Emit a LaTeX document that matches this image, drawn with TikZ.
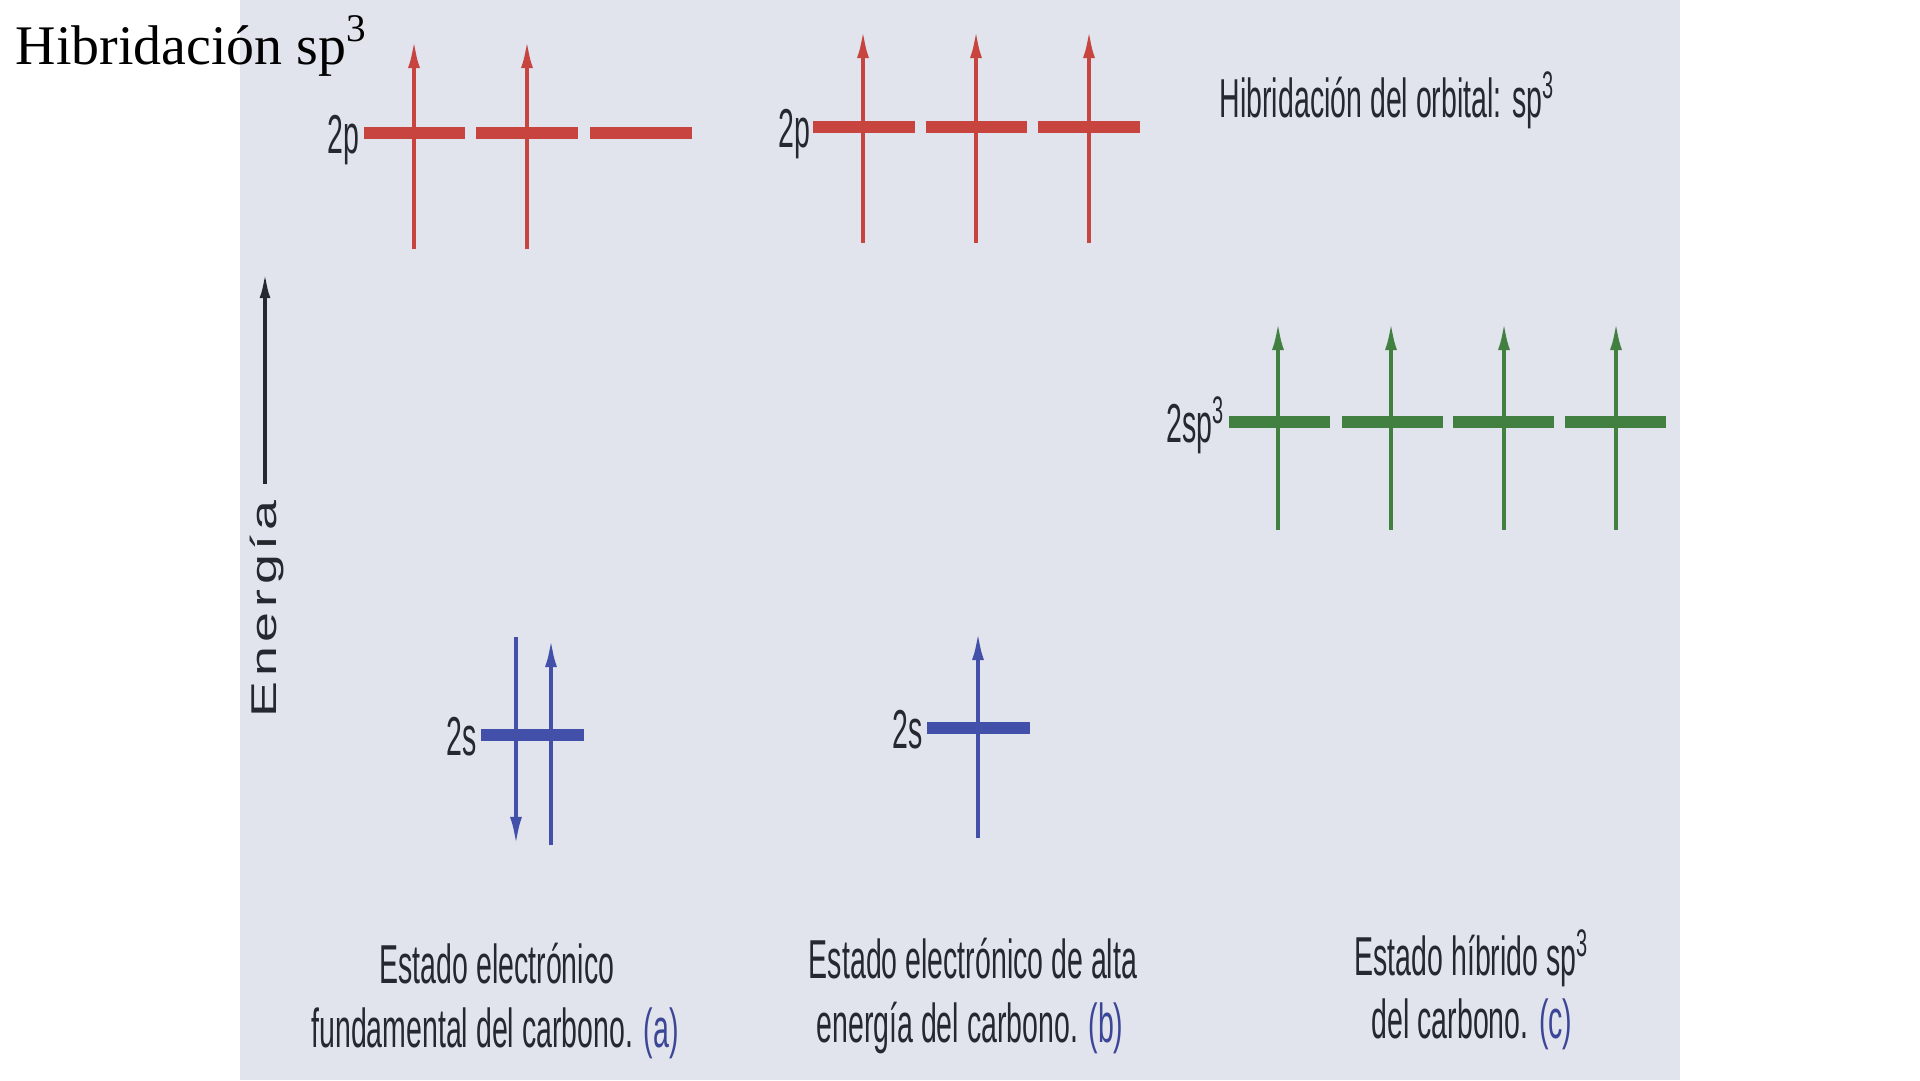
\documentclass[tikz,border=0pt]{standalone}
\usepackage{fontspec}
\setmainfont{Liberation Serif}
\newfontfamily\condfont[FakeStretch=0.52]{Liberation Sans}
\newfontfamily\widefont[FakeStretch=1.5,LetterSpace=13]{Liberation Sans}
\usetikzlibrary{arrows.meta}
\definecolor{paper}{RGB}{225,227,237}
\definecolor{ored}{RGB}{200,68,62}
\definecolor{ogreen}{RGB}{66,128,66}
\definecolor{oblue}{RGB}{66,80,170}
\definecolor{ink}{RGB}{38,40,48}
\definecolor{lblue}{RGB}{60,70,150}
\begin{document}
\begin{tikzpicture}[x=0.1mm,y=-0.1mm,
	orb/.style={line width=3.6pt},
	spin/.style={line width=1.1pt,-{Latex[length=8pt,width=3.4pt]}},
	lbl/.style={font=\condfont\fontsize{15.6}{18}\selectfont,text=ink,inner sep=0pt},
	leyenda/.style={lbl,anchor=base}]
	\useasboundingbox (0,0) rectangle (1920,1080);
	\fill[paper] (240,0) rectangle (1680,1080);
	\node[anchor=base west,inner sep=0pt,font=\fontsize{15.9}{19}\selectfont] (titulo) at (15,64) {Hibridación sp\textsuperscript{3}};
	% eje de energia
	\coordinate (e0) at (265,484) ; \coordinate (e1) at (265,270) ;
	\draw[ink,line width=1.2pt,-{Latex[length=8pt,width=3pt]}] (e0) -- (e1) ;
	\node[rotate=90,font=\widefont\fontsize{10.2}{12}\selectfont,text=ink,inner sep=0pt] (energia) at (267,609) {Energía};
	% (a) estado fundamental
	\draw[orb,ored] (364,133) -- (465,133) (476,133) -- (578,133) (590,133) -- (692,133) ;
	\foreach \x in {414,527} \draw[spin,ored] (\x,249) -- (\x,40) ;
	\node[lbl,anchor=base east] (a2p) at (360,153) {2p};
	\draw[orb,oblue] (481,735) -- (584,735) ;
	\draw[spin,oblue] (516,637) -- (516,845) ;
	\draw[spin,oblue] (551,845) -- (551,639) ;
	\node[lbl,anchor=base east] (a2s) at (477,755) {2s};
	% (b) estado de alta energia
	\draw[orb,ored] (813,127) -- (915,127) (926,127) -- (1027,127) (1038,127) -- (1140,127) ;
	\foreach \x in {863,976,1089} \draw[spin,ored] (\x,243) -- (\x,30) ;
	\node[lbl,anchor=base east] (b2p) at (811,147) {2p};
	\draw[orb,oblue] (927,728) -- (1030,728) ;
	\draw[spin,oblue] (978,838) -- (978,632) ;
	\node[lbl,anchor=base east] (b2s) at (923,748) {2s};
	% (c) estado hibrido
	\node[lbl,anchor=base west] (hib) at (1219,117) {Hibridación del orbital: sp\textsuperscript{3}};
	\draw[orb,ogreen] (1229,422) -- (1330,422) (1342,422) -- (1443,422) (1453,422) -- (1554,422) (1565,422) -- (1666,422) ;
	\foreach \x in {1278,1391,1504,1616} \draw[spin,ogreen] (\x,530) -- (\x,322) ;
	\node[lbl,anchor=base east] (c2sp) at (1226,442) {2sp\textsuperscript{3}};
	% leyendas
	\node[leyenda] (capa1) at (497,983) {Estado electrónico};
	\node[leyenda] (capa2) at (495,1047) {fundamental del carbono. {\color{lblue}(a)}};
	\node[leyenda] (capb1) at (973,978) {Estado electrónico de alta};
	\node[leyenda] (capb2) at (970,1042) {energía del carbono. {\color{lblue}(b)}};
	\node[leyenda] (capc1) at (1472,975) {Estado híbrido sp\textsuperscript{3}};
	\node[leyenda] (capc2) at (1472,1038) {del carbono. {\color{lblue}(c)}};
\end{tikzpicture}
\end{document}
